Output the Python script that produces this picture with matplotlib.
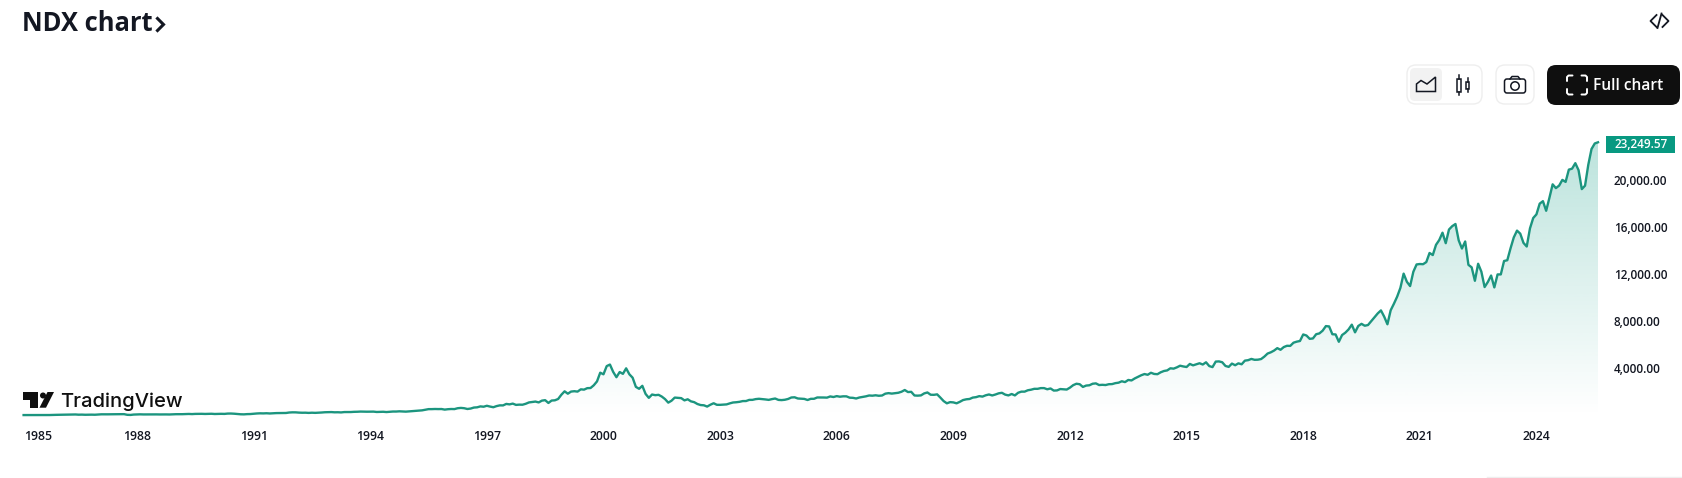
import numpy as np
import matplotlib
matplotlib.use("Agg")
import matplotlib.pyplot as plt
from matplotlib.patches import FancyBboxPatch, Rectangle, Polygon, Circle
from matplotlib.transforms import ScaledTranslation

# Monthly closes, Feb 1985 onward
y1985 = [113,113,112,118,119,118,117,110,116,125,132]
y1986 = [133,143,150,155,161,163,145,151,139,146,148,141]
y1987 = [160,177,181,176,176,183,187,194,191,134,124,156]
y1988 = [167,175,166,168,165,178,170,165,171,168,163,177]
y1989 = [186,183,188,198,208,196,212,217,218,208,212,223]
y1990 = [204,211,219,212,239,243,228,200,180,173,193,200]
y1991 = [228,248,261,254,267,249,266,280,286,297,290,330]
y1992 = [345,342,321,310,314,297,312,300,313,330,352,361]
y1993 = [366,347,352,338,368,370,370,388,394,410,401,398]
y1994 = [402,405,375,386,393,369,390,413,412,431,414,404]
y1995 = [425,448,463,491,513,566,616,617,628,621,626,576]
y1996 = [610,627,620,694,720,694,628,665,750,770,848,821]
y1997 = [901,833,778,873,936,932,1058,1020,1085,976,998,990]
y1998 = [1070,1185,1220,1258,1185,1337,1377,1140,1345,1364,1477,1836]
y1999 = [2127,1925,2106,2136,2103,2296,2270,2396,2407,2638,2967,3708]
y2000 = [3570,4266,4397,3774,3324,3763,3609,4077,3570,3282,2506,2341]
y2001 = [2593,1908,1573,1855,1800,1830,1683,1469,1168,1329,1596,1577]
y2002 = [1550,1359,1452,1277,1208,1051,962,942,833,989,1116,984]
y2003 = [981,1000,1018,1106,1180,1201,1237,1300,1303,1400,1403,1467]
y2004 = [1494,1467,1438,1401,1466,1516,1400,1383,1412,1480,1604,1621]
y2005 = [1519,1503,1483,1391,1491,1494,1606,1605,1602,1592,1693,1645]
y2006 = [1719,1669,1703,1700,1587,1575,1519,1603,1654,1701,1774,1756]
y2007 = [1791,1750,1772,1928,1973,1934,1965,2004,2091,2238,2065,2084]
y2008 = [1774,1760,1781,1950,2030,1837,1830,1870,1594,1300,1110,1211]
y2009 = [1188,1110,1236,1386,1450,1477,1596,1632,1718,1680,1791,1860]
y2010 = [1776,1857,1957,2001,1847,1780,1900,1780,2006,2100,2100,2217]
y2011 = [2265,2340,2338,2400,2400,2300,2370,2190,2204,2320,2300,2277]
y2012 = [2440,2650,2770,2730,2500,2615,2640,2770,2800,2660,2680,2660]
y2013 = [2730,2740,2820,2860,2980,2910,3090,3050,3220,3360,3490,3592]
y2014 = [3530,3700,3600,3580,3740,3850,3900,4080,4050,4160,4300,4236]
y2015 = [4190,4450,4330,4415,4508,4400,4590,4270,4180,4650,4665,4593]
y2016 = [4280,4200,4480,4340,4500,4420,4730,4770,4875,4800,4810,4863]
y2017 = [5070,5330,5436,5583,5790,5650,5880,5990,5980,6250,6340,6396]
y2018 = [6950,6860,6580,6610,6970,7040,7270,7660,7630,6970,6950,6329]
y2019 = [6900,7100,7378,7780,7130,7670,7850,7690,7750,8080,8400,8733]
y2020 = [8990,8460,7813,9000,9555,10156,10900,12110,11418,11053,12268,12888]
y2021 = [12925,12909,13091,13860,13686,14554,14960,15582,14690,15850,16135,16320]
y2022 = [14930,14238,14838,12855,12643,11503,12947,12272,10971,11405,11948,10939]
y2023 = [12042,12043,13181,13246,14254,15179,15757,15501,14715,14409,15947,16826]
y2024 = [17137,18044,18255,17440,18537,19683,19363,19575,20061,19890,20930,21012]
y2025 = [21478,20884,19279,19571,21340,22679,23150,23249.57]

years_data = [y1985,y1986,y1987,y1988,y1989,y1990,y1991,y1992,y1993,y1994,y1995,y1996,y1997,
              y1998,y1999,y2000,y2001,y2002,y2003,y2004,y2005,y2006,y2007,y2008,y2009,y2010,
              y2011,y2012,y2013,y2014,y2015,y2016,y2017,y2018,y2019,y2020,y2021,y2022,y2023,
              y2024,y2025]
values = np.array([v for yr in years_data for v in yr], dtype=float)
months = np.arange(len(values))

tick_years = [1985,1988,1991,1994,1997,2000,2003,2006,2009,2012,2015,2018,2021,2024]
price_ticks = [4000,8000,12000,16000,20000]
last_label = "23,249.57"
title = "NDX chart"

W, H = 1683, 478
LINE = "#1c957f"
TEAL = "#089981"
INK = "#131722"
plt.rcParams["font.family"] = ["Open Sans", "DejaVu Sans"]

fig = plt.figure(figsize=(W/100, H/100), dpi=100, facecolor="white")
L, R, T, B = 23.6, 1598, 130, 416.4
ax = fig.add_axes([L/W, 1-B/H, (R-L)/W, (B-T)/H])
ax.set_xlim(0, months[-1])
ax.set_ylim(0, (B-T)/0.01179)
for s in ax.spines.values():
    s.set_visible(False)

# gradient area
grad = np.zeros((256, 2, 4))
grad[..., 0], grad[..., 1], grad[..., 2] = 0x08/255, 0x99/255, 0x81/255
grad[..., 3] = np.linspace(0.285, 0.0, 256)[:, None]
im = ax.imshow(grad, extent=[0, months[-1], 0, ax.get_ylim()[1]], aspect="auto", zorder=1, origin="upper")
poly = ax.fill_between(months, values, 0, color="none", lw=0)
im.set_clip_path(poly.get_paths()[0], transform=ax.transData)
ax.plot(months, values, color=LINE, lw=1.7, zorder=3, solid_joinstyle="round", clip_on=False)

# axes
pos = [0] + [(y-1985)*12-1 for y in tick_years[1:]]
ax.set_xticks(pos)
ax.set_xticklabels([str(y) for y in tick_years], fontsize=8.8, color=INK, fontweight="semibold")
ax.get_xticklabels()[0].set_ha("left")
ax.tick_params(axis="x", length=0, pad=9.5)
ax.yaxis.tick_right()
ax.set_yticks(price_ticks)
ax.set_yticklabels([f"{p:,.2f}" for p in price_ticks], fontsize=8.5, color=INK, fontweight="semibold")
ax.tick_params(axis="y", length=0, pad=11.5)
shift = ScaledTranslation(0, 1/100, fig.dpi_scale_trans)
for lab in ax.get_yticklabels():
    lab.set_transform(lab.get_transform() + shift)

# overlay in pixel coords
ov = fig.add_axes([0, 0, 1, 1], facecolor="none", zorder=5)
ov.set_xlim(0, W); ov.set_ylim(H, 0); ov.axis("off")

ov.text(22, 23.5, title, fontsize=18.4, fontweight="bold", color="#131722", va="center", ha="left")
ov.plot([157.5,163.5,157.5],[18.5,24.5,30.5], color="#131722", lw=2.2, solid_joinstyle="miter")
# code icon
ov.plot([1656.5,1650.5,1656.5],[15,21,27], color="#131722", lw=1.3)
ov.plot([1662.5,1668.5,1662.5],[15,21,27], color="#131722", lw=1.3)
ov.plot([1657.5,1661.5],[28,13.5], color="#131722", lw=1.3)

# price tag
ov.add_patch(Rectangle((1606, 136), 69, 17, fc=TEAL, ec="none"))
ov.text(1615, 144, last_label, fontsize=8.5, color="white", va="center", ha="left", fontweight="semibold")

def rbox(x0, y0, x1, y1, r, fc, ec, lw=1):
    ov.add_patch(FancyBboxPatch((x0+r, y0+r), x1-x0-2*r, y1-y0-2*r,
                 boxstyle=f"round,pad={r},rounding_size={r}", fc=fc, ec=ec, lw=lw))

rbox(1407, 65, 1482, 104, 9, "white", "#eeeeee")
rbox(1410, 68, 1442, 101, 5, "#f2f2f2", "none")
rbox(1496, 65, 1534, 104, 9, "white", "#eeeeee")
rbox(1547, 65, 1680, 105, 9, "#0f0f0f", "none")

# area icon
ov.add_patch(Polygon([(1416.5,91.5),(1416.5,84),(1421,80.5),(1427,84),(1435.5,77),(1435.5,91.5)],
                     closed=True, fc="none", ec="#131722", lw=1.1))
# candle icon
ov.add_patch(Rectangle((1457.5,79),3.5,13, fc="none", ec="#131722", lw=1.1))
ov.plot([1459.2,1459.2],[75,79], color="#131722", lw=1.1)
ov.plot([1459.2,1459.2],[92,95], color="#131722", lw=1.1)
ov.add_patch(Rectangle((1466,82),3.5,7, fc="none", ec="#131722", lw=1.1))
ov.plot([1467.7,1467.7],[78,82], color="#131722", lw=1.1)
ov.plot([1467.7,1467.7],[89,92], color="#131722", lw=1.1)
# camera icon
rbox(1504.5, 79, 1525.5, 93, 2.5, "none", "#131722", 1.1)
ov.plot([1510,1512,1518,1520],[79,76.5,76.5,79], color="#131722", lw=1.1)
ov.add_patch(Circle((1515, 86), 4.2, fc="none", ec="#131722", lw=1.1))
# fullscreen icon
for xs, ys in [([1567,1567,1568.5,1572.5],[81,77,75.5,75.5]), ([1581.5,1585.5,1587,1587],[75.5,75.5,77,81]),
               ([1567,1567,1568.5,1572.5],[89,93,94.5,94.5]), ([1581.5,1585.5,1587,1587],[94.5,94.5,93,89])]:
    ov.plot(xs, ys, color="white", lw=1.4, solid_capstyle="round")
ov.text(1628, 85.5, "Full chart", fontsize=11.2, color="white", va="center", ha="center", fontweight="semibold")

# TradingView logo
ov.add_patch(Polygon([(23.5,392),(38,392),(38,407.7),(30.5,407.7),(30.5,399.5),(23.5,399.5)], closed=True, fc="#0f0f0f", ec="none"))
ov.add_patch(Circle((43,395.5), 3.0, fc="#0f0f0f", ec="none"))
ov.add_patch(Polygon([(47.5,392),(54,392),(46,407.7),(39.5,407.7)], closed=True, fc="#0f0f0f", ec="none"))
ov.text(60.5, 407, "TradingView", fontsize=14.5, family="Inter", fontweight=500, color="#0f0f0f", va="baseline", ha="left")

ov.plot([1487, 1683], [477, 477], color="#eeeeee", lw=1)

fig.savefig("out.png", dpi=100, facecolor="white")
